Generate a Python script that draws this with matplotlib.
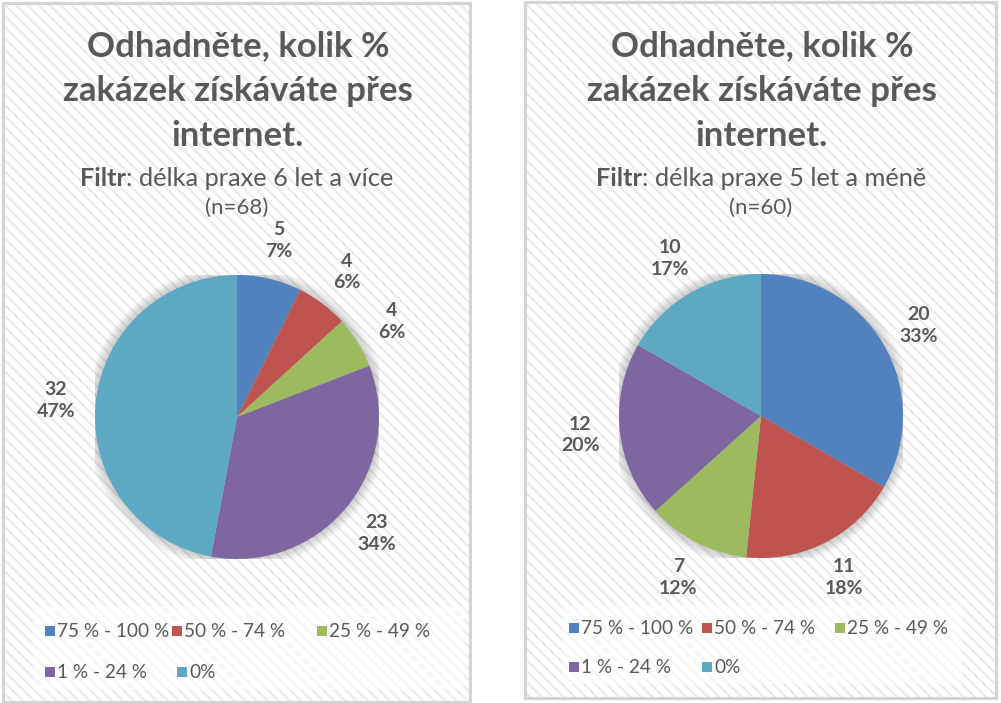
import matplotlib
matplotlib.use("Agg")
import matplotlib.pyplot as plt
from matplotlib.patches import Rectangle, Circle
from matplotlib.offsetbox import TextArea, HPacker, AnnotationBbox

W, H = 1001, 703
categories = ["75 % - 100 %", "50 % - 74 %", "25 % - 49 %", "1 % - 24 %", "0%"]
colors = ["#5182BD", "#BF5350", "#9DBA5E", "#7E66A1", "#5DA9C4"]
left_values = [5, 4, 4, 23, 32]
right_values = [20, 11, 7, 12, 10]
title = "Odhadněte, kolik %\nzakázek získáváte přes\ninternet."
left_filter = "délka praxe 6 let a více"
right_filter = "délka praxe 5 let a méně"
left_n = "(n=68)"
right_n = "(n=60)"

TXT = "#595959"
FONT = "Lato"
plt.rcParams["hatch.linewidth"] = 1.6

fig = plt.figure(figsize=(W / 100, H / 100), dpi=100)
fig.patch.set_facecolor("white")


def fx(x):
    return x / W


def fy(y):
    return 1 - y / H


def rect(x0, y0, x1, y1, **kw):
    p = Rectangle((fx(x0), fy(y1)), fx(x1) - fx(x0), fy(y0) - fy(y1),
                  transform=fig.transFigure, **kw)
    fig.patches.append(p)
    return p


def panel(x0, y0, x1, y1, cx, cy, r, values, filt, ntxt, leg_box, leg_pos):
    # background with diagonal stripes
    rect(x0, y0, x1, y1, facecolor="white", edgecolor="#ebebeb",
         hatch="\\\\\\", linewidth=0, zorder=-3)
    rect(*leg_box, facecolor="white", edgecolor="none", alpha=0.55, zorder=-2)
    rect(x0, y0, x1, y1, facecolor="none", edgecolor="#d4d4d4",
         linewidth=2.2, zorder=-1)

    # title
    fig.text(fx(cx + 1), fy(91), title, ha="center", va="center",
             fontsize=25, fontweight="bold", color=TXT, family=FONT,
             linespacing=1.5)
    sub = HPacker(children=[
        TextArea("Filtr", textprops=dict(fontsize=18.3, fontweight="bold", color=TXT, family=FONT)),
        TextArea(": " + filt, textprops=dict(fontsize=18.3, color=TXT, family=FONT)),
    ], pad=0, sep=0, align="baseline")
    ab = AnnotationBbox(sub, (fx(cx), fy(178)), xycoords="figure fraction",
                        frameon=False, box_alignment=(0.5, 0.5), pad=0)
    fig.add_artist(ab)
    fig.text(fx(cx), fy(208), ntxt, ha="center", va="center",
             fontsize=16, color=TXT, family=FONT)

    # pie
    ax = fig.add_axes([fx(cx - r), fy(cy + r), (2 * r) / W, (2 * r) / H])
    ax.axis("off")
    for k in range(6):
        ax.add_patch(Circle((0, 0), 1.0 + 0.012 * (k + 1), facecolor="#000000",
                            alpha=0.03, edgecolor="none", zorder=0))
    total = sum(values)
    labels = [f"{v}\n{round(v * 100 / total)}%" for v in values]
    wedges, texts = ax.pie(values, colors=colors, startangle=90, counterclock=False,
                           radius=1.0, labels=labels, labeldistance=1.28,
                           wedgeprops=dict(linewidth=0, zorder=1),
                           textprops=dict(fontsize=14, fontweight="bold", color=TXT,
                                          family=FONT, linespacing=1.35))
    for t in texts:
        t.set_ha("center")
        t.set_va("center")
        t.set_clip_on(False)
    ax.set_xlim(-1, 1)
    ax.set_ylim(-1, 1)

    # legend (row-major, Excel-like fixed slots)
    for cat, col, (lx, ly) in zip(categories, colors, leg_pos):
        rect(lx, ly - 5, lx + 10, ly + 5, facecolor=col, edgecolor="none", zorder=2)
        fig.text(fx(lx + 12), fy(ly + 0.5), cat, ha="left", va="center",
                 fontsize=13.7, color=TXT, family=FONT)


panel(3, 3, 470, 702, 237, 417, 142, left_values, left_filter, left_n,
      (33, 606, 465, 690),
      [(45, 631), (172, 631), (317, 631), (45, 672), (177, 672)])
panel(525, 2, 996, 698, 761, 416, 142, right_values, right_filter, right_n,
      (563, 605, 962, 684),
      [(569, 628), (702, 628), (835, 628), (569, 667), (702, 667)])

fig.savefig("out.png", dpi=100)
